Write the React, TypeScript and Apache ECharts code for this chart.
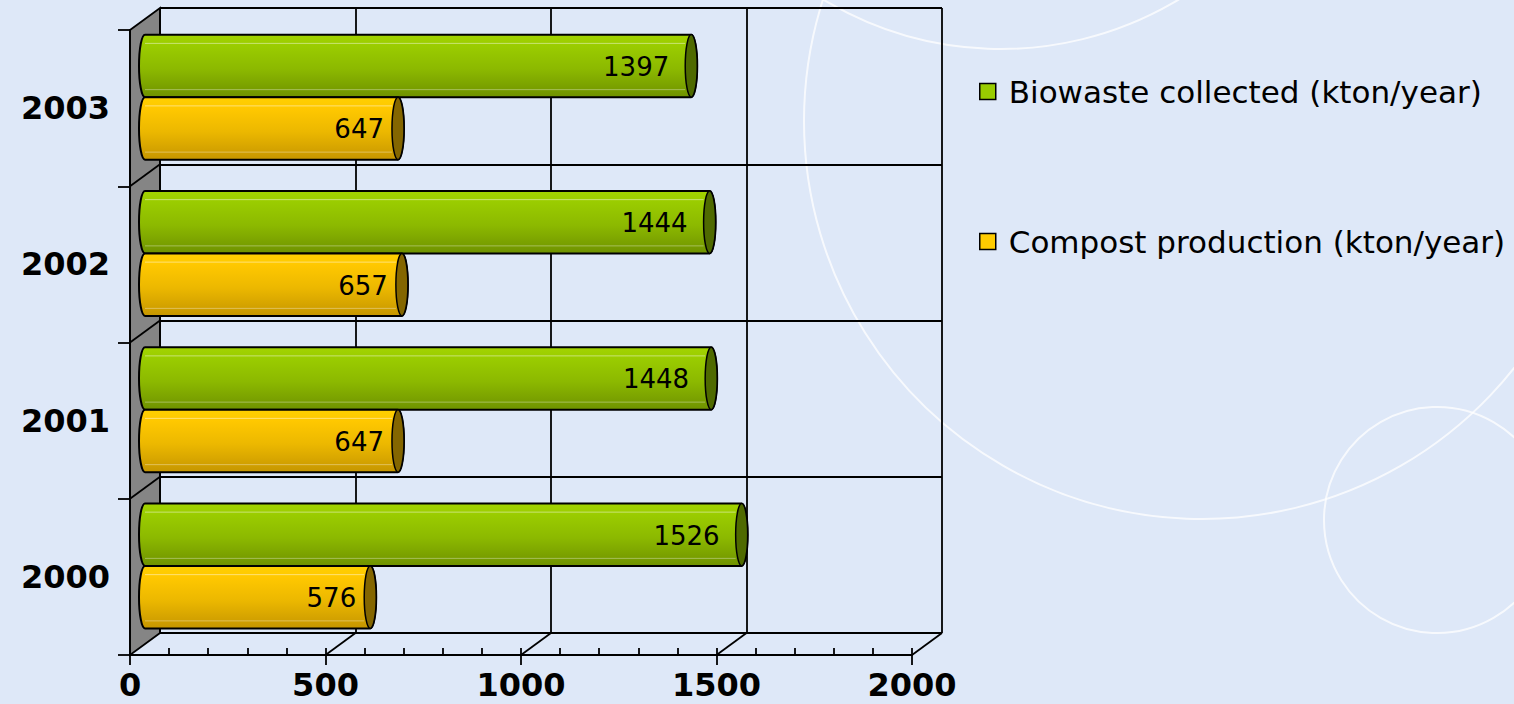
import React, { useEffect, useRef } from "react";
import * as echarts from "echarts";

// ---- data ----
const years = ["2000", "2001", "2002", "2003"];
const biowaste = [1526, 1448, 1444, 1397];
const compost = [576, 647, 657, 647];
const seriesNames = ["Biowaste collected (kton/year)", "Compost production (kton/year)"];
const xMin = 0;
const xMax = 2000;
const xMajor = 500;
const xMinor = 100;

// ---- layout / style ----
const FONT = "DejaVu Sans";
const BG = "#dee8f8";
const PW = 782; // plot width
const PH = 625; // plot height
const FRONT = { left: 130, top: 30 };
const DX = 30;
const DY = -22;
const BACK = { left: FRONT.left + DX, top: FRONT.top + DY };
const MID = { left: FRONT.left + DX / 2, top: FRONT.top + DY / 2 };

const palettes = [
  {
    stops: [
      [0, "#a3d400"],
      [0.18, "#9acc00"],
      [0.55, "#8cb900"],
      [1, "#6f9200"],
    ],
    cap: "#4f6a00",
    legend: "#99cc00",
    labelGap: 22,
  },
  {
    stops: [
      [0, "#ffd000"],
      [0.18, "#ffc800"],
      [0.55, "#ecb800"],
      [1, "#c69600"],
    ],
    cap: "#846600",
    legend: "#ffcc00",
    labelGap: 14,
  },
];

function makeRender(which: number) {
  const pal = palettes[which];
  return (params: any, api: any) => {
    const v = api.value(0);
    const c = api.value(1);
    const p0 = api.coord([0, c]);
    const p1 = api.coord([v, c]);
    const band = api.size([0, 1])[1];
    const h = band * 0.4;
    const yt = which === 0 ? p0[1] - h : p0[1];
    const yb = yt + h;
    const yc = (yt + yb) / 2;
    const rx = 6;
    const ry = h / 2;
    const x0 = p0[0];
    const x1 = p1[0];
    const d = `M${x0},${yt} L${x1},${yt} A${rx},${ry} 0 0 1 ${x1},${yb} L${x0},${yb} A${rx},${ry} 0 0 1 ${x0},${yt} Z`;
    const grad = new echarts.graphic.LinearGradient(
      0,
      0,
      0,
      1,
      pal.stops.map((s) => ({ offset: s[0] as number, color: s[1] as string }))
    );
    return {
      type: "group",
      children: [
        {
          type: "path",
          shape: { pathData: d },
          style: { fill: grad, stroke: "#000", lineWidth: 2 },
        },
        {
          type: "line",
          shape: { x1: x0, y1: yt + h * 0.14, x2: x1 - rx, y2: yt + h * 0.14 },
          style: { stroke: "rgba(255,255,255,0.45)", lineWidth: 1 },
        },
        {
          type: "line",
          shape: { x1: x0, y1: yt + h * 0.88, x2: x1 - rx, y2: yt + h * 0.88 },
          style: { stroke: "rgba(255,255,255,0.35)", lineWidth: 1 },
        },
        {
          type: "ellipse",
          shape: { cx: x1, cy: yc, rx, ry },
          style: { fill: pal.cap, stroke: "#000", lineWidth: 1.5 },
        },
        {
          type: "text",
          x: x1 - pal.labelGap,
          y: yc + 1,
          style: {
            text: String(v),
            align: "right",
            verticalAlign: "middle",
            fontSize: 26,
            fontFamily: FONT,
            fill: "#000",
          },
        },
      ],
    };
  };
}

export default function App() {
  const ref = useRef<HTMLDivElement>(null);
  useEffect(() => {
    if (!ref.current) return;
    const chart = echarts.init(ref.current, undefined, { renderer: "svg" });
    const band = PH / years.length;
    const lineStyle = { color: "#000", width: 1.8 };

    const graphics: any[] = [
      { type: "circle", z: 0, shape: { cx: 1202, cy: 121, r: 398 }, style: { fill: "none", stroke: "rgba(255,255,255,0.75)", lineWidth: 2 } },
      { type: "circle", z: 0, shape: { cx: 1001, cy: -295, r: 344 }, style: { fill: "none", stroke: "rgba(255,255,255,0.75)", lineWidth: 2 } },
      { type: "circle", z: 0, shape: { cx: 1437, cy: 520, r: 113 }, style: { fill: "none", stroke: "rgba(255,255,255,0.75)", lineWidth: 2 } },
      {
        type: "polygon",
        z: 1,
        shape: {
          points: [
            [FRONT.left, FRONT.top],
            [BACK.left, BACK.top],
            [BACK.left, BACK.top + PH],
            [FRONT.left, FRONT.top + PH],
          ],
        },
        style: { fill: "#858585", stroke: "#000", lineWidth: 1.8 },
      },
    ];
    for (let k = 1; k < years.length; k++) {
      const y = FRONT.top + k * band;
      graphics.push({
        type: "line",
        z: 1,
        shape: { x1: FRONT.left, y1: y, x2: BACK.left, y2: y + DY },
        style: { stroke: "#000", lineWidth: 1.8 },
      });
    }
    for (let v = xMin + xMajor; v <= xMax; v += xMajor) {
      const x = FRONT.left + ((v - xMin) / (xMax - xMin)) * PW;
      const y = FRONT.top + PH;
      graphics.push({
        type: "line",
        z: 1,
        shape: { x1: x, y1: y, x2: x + DX, y2: y + DY },
        style: { stroke: "#000", lineWidth: 1.8 },
      });
    }

    chart.setOption({
      animation: false,
      backgroundColor: BG,
      textStyle: { fontFamily: FONT },
      grid: [
        { left: BACK.left, top: BACK.top, width: PW, height: PH },
        { left: FRONT.left, top: FRONT.top, width: PW, height: PH },
        { left: MID.left, top: MID.top, width: PW, height: PH },
      ],
      xAxis: [
        {
          gridIndex: 0,
          type: "value",
          min: xMin,
          max: xMax,
          interval: xMajor,
          axisLine: { show: false },
          axisTick: { show: false },
          axisLabel: { show: false },
          splitLine: { show: true, lineStyle },
          z: 1,
        },
        {
          gridIndex: 1,
          type: "value",
          position: "bottom",
          min: xMin,
          max: xMax,
          interval: xMajor,
          axisLine: { show: true, lineStyle: { color: "#000", width: 2 } },
          axisTick: { show: true, length: 10, lineStyle },
          axisLabel: {
            fontSize: 32,
            fontWeight: "bold",
            fontFamily: FONT,
            color: "#000",
            margin: 14,
            formatter: (v: number) => String(v),
          },
          splitLine: { show: false },
          z: 3,
        },
        {
          gridIndex: 1,
          type: "value",
          position: "bottom",
          min: xMin,
          max: xMax,
          interval: xMinor,
          axisLine: { show: false },
          axisTick: { show: true, inside: true, length: 7, lineStyle },
          axisLabel: { show: false },
          splitLine: { show: false },
          z: 3,
        },
        { gridIndex: 2, type: "value", min: xMin, max: xMax, show: false },
      ],
      yAxis: [
        {
          gridIndex: 0,
          type: "category",
          data: years,
          axisLine: { show: false },
          axisTick: { show: false },
          axisLabel: { show: false },
          splitLine: { show: true, lineStyle },
          z: 1,
        },
        {
          gridIndex: 1,
          type: "category",
          data: years,
          axisLine: { show: true, lineStyle: { color: "#000", width: 2 } },
          axisTick: { show: true, length: 12, lineStyle },
          axisLabel: { fontSize: 32, fontWeight: "bold", fontFamily: FONT, color: "#000", margin: 20 },
          splitLine: { show: false },
          z: 3,
        },
        { gridIndex: 2, type: "category", data: years, show: false },
      ],
      legend: {
        orient: "vertical",
        left: 979,
        top: 76,
        padding: 0,
        icon: "rect",
        itemWidth: 16,
        itemHeight: 16,
        itemGap: 119,
        itemStyle: { borderColor: "#000", borderWidth: 1.5 },
        textStyle: { fontSize: 31, fontFamily: FONT, color: "#000", lineHeight: 30, padding: [0, 0, 0, 8] },
        data: [
          { name: seriesNames[0], itemStyle: { color: palettes[0].legend } },
          { name: seriesNames[1], itemStyle: { color: palettes[1].legend } },
        ],
      },
      graphic: graphics,
      series: [
        {
          type: "custom",
          name: seriesNames[0],
          xAxisIndex: 3,
          yAxisIndex: 2,
          itemStyle: { color: palettes[0].legend },
          encode: { x: 0, y: 1 },
          data: biowaste.map((v, i) => [v, i]),
          renderItem: makeRender(0),
          z: 2,
        },
        {
          type: "custom",
          name: seriesNames[1],
          xAxisIndex: 3,
          yAxisIndex: 2,
          itemStyle: { color: palettes[1].legend },
          encode: { x: 0, y: 1 },
          data: compost.map((v, i) => [v, i]),
          renderItem: makeRender(1),
          z: 2,
        },
      ],
    });
    return () => chart.dispose();
  }, []);
  return (
    <div
      ref={ref}
      style={{ position: "fixed", left: 0, top: 0, width: 1514, height: 704 }}
    />
  );
}
